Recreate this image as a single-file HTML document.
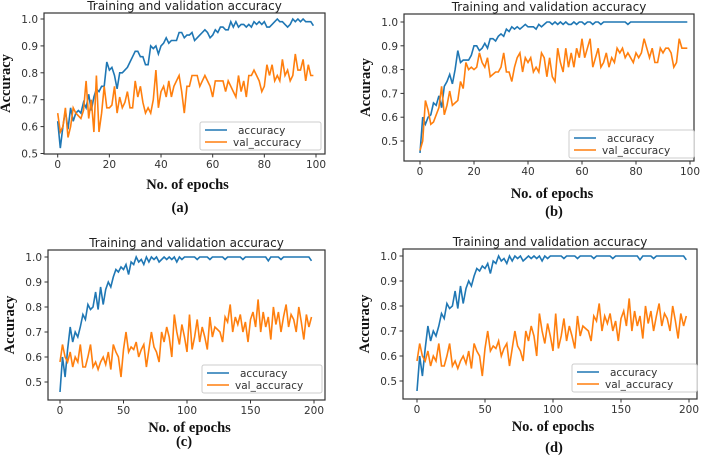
<!DOCTYPE html>
<html><head><meta charset="utf-8">
<style>
body{margin:0;background:#fff;}
svg{display:block;}
.tick{font-family:"DejaVu Sans",sans-serif;font-size:10.5px;fill:#333;}
.title{font-family:"DejaVu Sans",sans-serif;font-size:12px;fill:#222;}
.lab{font-family:"Liberation Serif",serif;font-weight:bold;font-size:14.5px;fill:#111;}
.leg{font-family:"DejaVu Sans",sans-serif;font-size:10.5px;fill:#333;}
</style></head>
<body>
<svg id="fig" width="708" height="457" viewBox="0 0 708 457"></svg>
<script>
const accA=[0.62,0.52,0.6,0.66,0.59,0.67,0.62,0.65,0.66,0.65,0.69,0.67,0.72,0.66,0.71,0.74,0.73,0.75,0.75,0.84,0.81,0.82,0.79,0.74,0.8,0.8,0.81,0.82,0.84,0.86,0.88,0.88,0.86,0.86,0.83,0.83,0.9,0.89,0.9,0.87,0.9,0.91,0.93,0.91,0.92,0.92,0.92,0.95,0.95,0.93,0.94,0.94,0.95,0.92,0.93,0.94,0.95,0.96,0.95,0.93,0.94,0.96,0.95,0.97,0.97,0.96,0.96,0.99,0.97,0.99,0.97,0.98,0.98,0.97,0.98,0.97,0.99,0.98,0.99,0.98,0.99,0.97,0.97,0.98,0.99,1.0,0.99,0.99,0.98,0.97,0.98,1.0,0.99,1.0,0.99,1.0,0.99,0.99,0.99,0.975];
const valA=[0.65,0.58,0.6,0.67,0.56,0.6,0.67,0.65,0.64,0.63,0.66,0.77,0.63,0.7,0.58,0.79,0.58,0.65,0.75,0.67,0.67,0.68,0.75,0.65,0.71,0.67,0.69,0.73,0.67,0.67,0.77,0.71,0.75,0.69,0.65,0.67,0.65,0.7,0.81,0.67,0.73,0.75,0.71,0.77,0.71,0.75,0.77,0.79,0.73,0.65,0.75,0.75,0.79,0.79,0.79,0.75,0.77,0.79,0.77,0.75,0.71,0.77,0.77,0.77,0.77,0.73,0.77,0.75,0.73,0.71,0.79,0.73,0.77,0.71,0.79,0.79,0.81,0.79,0.77,0.73,0.75,0.83,0.79,0.83,0.77,0.79,0.77,0.85,0.79,0.81,0.77,0.79,0.87,0.81,0.81,0.85,0.77,0.83,0.79,0.79];
const accB=[0.45,0.6,0.57,0.6,0.61,0.66,0.65,0.69,0.64,0.73,0.75,0.78,0.74,0.8,0.88,0.83,0.84,0.84,0.84,0.86,0.9,0.9,0.88,0.89,0.91,0.89,0.93,0.93,0.92,0.94,0.95,0.94,0.97,0.96,0.98,0.97,0.98,0.97,0.98,0.99,0.98,0.98,0.98,0.97,0.99,0.98,0.99,1.0,1.0,0.99,1.0,0.99,1.0,0.99,1.0,0.99,0.99,1.0,0.99,1.0,1.0,0.99,1.0,1.0,0.99,1.0,1.0,0.99,1,1,1,1,1,1,1,1,1,0.99,1,1,1,1,1,1,1,1,1,1,1,1,1,1,1,1,1,1,1,1,1,1];
const valB=[0.46,0.5,0.67,0.63,0.57,0.58,0.61,0.64,0.73,0.61,0.65,0.71,0.65,0.66,0.67,0.75,0.72,0.83,0.8,0.81,0.8,0.81,0.87,0.83,0.81,0.85,0.77,0.78,0.79,0.79,0.81,0.87,0.79,0.79,0.75,0.81,0.85,0.87,0.79,0.85,0.83,0.85,0.79,0.81,0.79,0.87,0.85,0.77,0.85,0.77,0.75,0.89,0.83,0.79,0.89,0.81,0.87,0.81,0.89,0.85,0.93,0.85,0.89,0.93,0.81,0.85,0.89,0.81,0.83,0.87,0.81,0.85,0.83,0.89,0.87,0.89,0.85,0.87,0.85,0.83,0.87,0.85,0.87,0.93,0.89,0.85,0.89,0.83,0.83,0.89,0.87,0.89,0.89,0.87,0.81,0.83,0.93,0.89,0.89,0.89];
const accC=[0.46,0.6,0.52,0.63,0.72,0.66,0.7,0.68,0.72,0.77,0.75,0.81,0.79,0.8,0.86,0.79,0.88,0.81,0.87,0.9,0.88,0.92,0.95,0.94,0.96,0.95,0.97,0.93,0.98,0.97,1.0,0.98,0.99,0.97,1.0,0.98,1.0,0.99,1.0,0.98,0.99,1.0,0.99,1.0,0.99,1.0,0.98,1.0,0.99,1.0,1.0,1,1,1,0.99,1,1,1,1,0.99,1,1,1,1,1,0.99,1,1,1,1,1,1,0.99,1,1,1,1,1,1,1,1,1,0.985,1,1,1,1,0.99,1,1,1,1,1,1,1,1,1,1,1,0.985];
const valC=[0.58,0.65,0.6,0.58,0.62,0.56,0.6,0.58,0.65,0.56,0.56,0.6,0.65,0.56,0.58,0.55,0.58,0.6,0.57,0.62,0.55,0.65,0.62,0.6,0.52,0.63,0.7,0.62,0.64,0.63,0.66,0.6,0.63,0.65,0.56,0.63,0.7,0.64,0.62,0.58,0.7,0.66,0.72,0.68,0.6,0.77,0.7,0.65,0.73,0.68,0.62,0.77,0.63,0.68,0.75,0.66,0.72,0.68,0.63,0.76,0.68,0.72,0.71,0.7,0.66,0.76,0.74,0.81,0.7,0.76,0.73,0.77,0.7,0.74,0.66,0.75,0.78,0.72,0.83,0.7,0.78,0.72,0.76,0.67,0.8,0.73,0.78,0.7,0.76,0.81,0.72,0.77,0.75,0.7,0.8,0.74,0.67,0.77,0.72,0.76];
const accD=accC.slice();
const valD=valC.slice();
const yTicksAB1=[0.5,0.6,0.7,0.8,0.9,1.0];
const yTicksB=[0.5,0.6,0.7,0.8,0.9,1.0];
const yTicksCD=[0.5,0.6,0.7,0.8,0.9,1.0];
const xTicks100=[0,20,40,60,80,100];
const xTicks200=[0,50,100,150,200];

const NS='http://www.w3.org/2000/svg';
const svg=document.getElementById('fig');
function mk(tag,attrs,parent,text){const e=document.createElementNS(NS,tag);for(const k in attrs)e.setAttribute(k,attrs[k]);if(text!==undefined)e.textContent=text;(parent||svg).appendChild(e);return e;}

function panel(p){
  const g=mk('g',{});
  
  
  const sx=v=>p.x0+(v-0)*(p.x1-p.x0)/p.xmax;
  const sy=v=>p.y05+(v-0.5)*(p.y10-p.y05)/0.5;
  const box=mk('rect',{x:p.L,y:p.T,width:p.R-p.L,height:p.B-p.T,fill:'none',stroke:'#333','stroke-width':1.2},g);
  
  
  const t=mk('text',{x:(p.L+p.R)/2,y:p.T-3,'text-anchor':'middle',class:'title'},g,'Training and validation accuracy');
  
  
  p.yt.forEach(v=>{const y=sy(v);if(y>p.B)return;
    mk('line',{x1:p.L-3.5,x2:p.L,y1:y,y2:y,stroke:'#333'},g);
    const tl=mk('text',{x:p.L-6,y:y+4,'text-anchor':'end',class:'tick'},g,v.toFixed(1));
    
    });
  p.xt.forEach(v=>{const x=sx(v);
    mk('line',{x1:x,x2:x,y1:p.B,y2:p.B+3.5,stroke:'#333'},g);
    const tl=mk('text',{x:x,y:p.B+14,'text-anchor':'middle',class:'tick'},g,String(v));
    
    });
  const pts=a=>a.map((v,i)=>sx(i*p.step).toFixed(1)+','+sy(v).toFixed(1)).join(' ');
  const l1=mk('polyline',{points:pts(p.acc),fill:'none',stroke:'#1f77b4','stroke-width':1.6},g);
  
  
  const l2=mk('polyline',{points:pts(p.val),fill:'none',stroke:'#ff7f0e','stroke-width':1.6},g);
  
  
  const lg=mk('g',{},g);
  
  
  mk('rect',{x:p.lx,y:p.ly,width:p.lw,height:28,fill:'#fff',stroke:'#ccc',rx:2},lg);
  mk('line',{x1:p.lx+5,x2:p.lx+27,y1:p.ly+8,y2:p.ly+8,stroke:'#1f77b4','stroke-width':1.6},lg);
  mk('line',{x1:p.lx+5,x2:p.lx+27,y1:p.ly+20,y2:p.ly+20,stroke:'#ff7f0e','stroke-width':1.6},lg);
  mk('text',{x:p.lx+38,y:p.ly+12,class:'leg'},lg,'accuracy');
  mk('text',{x:p.lx+33,y:p.ly+24,class:'leg'},lg,'val_accuracy');
  const yl=mk('text',{x:0,y:0,'text-anchor':'middle',class:'lab',transform:`translate(${p.L-34},${(p.T+p.B)/2}) rotate(-90)`},g,'Accuracy');
  
  
  const xl=mk('text',{x:(p.L+p.R)/2+3,y:p.xly,'text-anchor':'middle',class:'lab'},g,'No. of epochs');
  
  
  const cl=mk('text',{x:p.cx,y:p.cly,'text-anchor':'middle',class:'lab'},g,'('+p.id+')');
  
  
}
panel({id:'a',L:44,R:325,T:13,B:154,x0:57.7,x1:316,xmax:100,step:1,y05:153.5,y10:19,yt:yTicksAB1,xt:xTicks100,acc:accA,val:valA,lx:200,ly:122,lw:121,xly:189,cx:180,cly:212});
panel({id:'b',L:404,R:694,T:14,B:161,x0:420,x1:690,xmax:100,step:1,y05:141,y10:22,yt:yTicksB,xt:xTicks100,acc:accB,val:valB,lx:569,ly:130,lw:125,xly:198,cx:554,cly:216});
panel({id:'c',L:48,R:325,T:250,B:400,x0:60,x1:314,xmax:200,step:2,y05:382,y10:257,yt:yTicksCD,xt:xTicks200,acc:accC,val:valC,lx:202,ly:365,lw:120,xly:432,cx:184,cly:446});
panel({id:'d',L:403,R:697,T:249,B:399,x0:417,x1:689,xmax:200,step:2,y05:381,y10:256,yt:yTicksCD,xt:xTicks200,acc:accD,val:valD,lx:572,ly:364,lw:125,xly:431,cx:554,cly:452});
</script>
</body></html>
